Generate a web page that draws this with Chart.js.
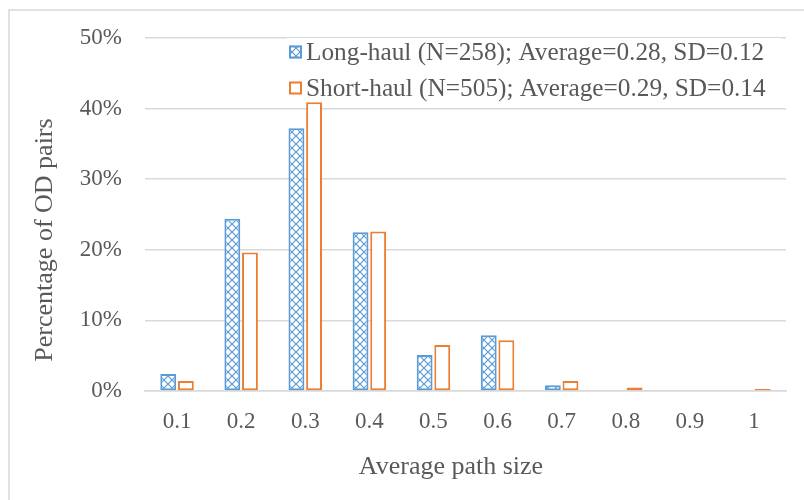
<!DOCTYPE html>
<html>
<head>
<meta charset="utf-8">
<script src="https://cdn.jsdelivr.net/npm/chart.js@4/dist/chart.umd.min.js"></script>
<style>
  html, body { margin: 0; padding: 0; background: #ffffff; }
  #wrap { position: relative; width: 804px; height: 500px; }
</style>
</head>
<body>
<div id="wrap"><canvas id="c" width="804" height="500"></canvas></div>
<script>
// ---- Data ----
const categories = ['0.1', '0.2', '0.3', '0.4', '0.5', '0.6', '0.7', '0.8', '0.9', '1'];
const longHaulLabel = 'Long-haul (N=258); Average=0.28, SD=0.12';
const shortHaulLabel = 'Short-haul (N=505); Average=0.29, SD=0.14';
const longHaulValues = [2.4, 24.4, 37.2, 22.5, 5.1, 7.9, 0.8, 0, 0, 0];
const shortHaulValues = [1.4, 19.6, 40.9, 22.6, 6.5, 7.2, 1.4, 0.5, 0, 0.3];
const yTickValues = [0, 10, 20, 30, 40, 50];
const xTitle = 'Average path size';
const yTitle = 'Percentage of OD pairs';

// ---- Styles ----
const BLUE = '#5B9BD5';
const ORANGE = '#ED7D31';
const TEXT = '#595959';
const GRID = '#D9D9D9';
const FONT = '"Liberation Serif", "Times New Roman", serif';

function makeHatch() {
  const p = document.createElement('canvas');
  p.width = 8; p.height = 8;
  const g = p.getContext('2d');
  g.fillStyle = '#ffffff';
  g.fillRect(0, 0, 8, 8);
  g.strokeStyle = BLUE;
  g.lineWidth = 1.2;
  g.beginPath();
  g.moveTo(0, 0); g.lineTo(8, 8);
  g.moveTo(8, 0); g.lineTo(0, 8);
  g.stroke();
  const ctx = document.getElementById('c').getContext('2d');
  return ctx.createPattern(p, 'repeat');
}
const hatch = makeHatch();

const decorPlugin = {
  id: 'decor',
  beforeDraw(chart) {
    const ctx = chart.ctx;
    ctx.save();
    ctx.strokeStyle = GRID;
    ctx.lineWidth = 1.5;
    ctx.beginPath();
    ctx.moveTo(9, 520);
    ctx.lineTo(9, 10);
    ctx.lineTo(820, 10);
    ctx.stroke();
    ctx.restore();
  },
  afterDraw(chart) {
    const ctx = chart.ctx;
    ctx.save();
    ctx.fillStyle = TEXT;
    // axis titles
    ctx.font = '26px ' + FONT;
    ctx.textAlign = 'center';
    ctx.textBaseline = 'middle';
    ctx.fillText(xTitle, 451, 467);
    ctx.save();
    ctx.translate(45, 240);
    ctx.rotate(-Math.PI / 2);
    ctx.fillText(yTitle, 0, 0);
    ctx.restore();
    // legend
    const items = [
      { label: chart.data.datasets[0].label, fill: hatch, stroke: BLUE, y: 52 },
      { label: chart.data.datasets[1].label, fill: '#ffffff', stroke: ORANGE, y: 88 }
    ];
    ctx.font = '25.3px ' + FONT;
    ctx.textAlign = 'left';
    items.forEach(it => {
      ctx.fillStyle = '#ffffff';
      ctx.fillRect(286, it.y - 14, 495, 28);
      ctx.fillStyle = it.fill;
      ctx.fillRect(289, it.y - 6.5, 13, 13);
      ctx.strokeStyle = it.stroke;
      ctx.lineWidth = 2;
      ctx.strokeRect(290, it.y - 5.5, 11, 11);
      ctx.fillStyle = TEXT;
      ctx.fillText(it.label, 306, it.y + 1);
    });
    ctx.restore();
  }
};

new Chart(document.getElementById('c'), {
  type: 'bar',
  data: {
    labels: categories,
    datasets: [
      {
        label: longHaulLabel,
        data: longHaulValues,
        backgroundColor: hatch,
        borderColor: BLUE,
        borderWidth: 2,
        borderSkipped: false,
        categoryPercentage: 0.55,
        barPercentage: 0.9
      },
      {
        label: shortHaulLabel,
        data: shortHaulValues,
        backgroundColor: '#ffffff',
        borderColor: ORANGE,
        borderWidth: 2,
        borderSkipped: false,
        categoryPercentage: 0.55,
        barPercentage: 0.9
      }
    ]
  },
  options: {
    responsive: false,
    animation: false,
    devicePixelRatio: 1,
    layout: { padding: { left: 0, top: 38, right: 18, bottom: 0 } },
    plugins: {
      legend: { display: false },
      tooltip: { enabled: false },
      title: { display: false }
    },
    scales: {
      x: {
        grid: { display: false, drawTicks: false },
        border: { display: true, color: GRID, width: 1.5 },
        ticks: { color: TEXT, font: { family: FONT, size: 23 }, padding: 17, maxRotation: 0 },
        afterFit(axis) { axis.height = 109; }
      },
      y: {
        min: 0,
        max: 50,
        afterBuildTicks(axis) { axis.ticks = yTickValues.map(v => ({ value: v })); },
        grid: { color: GRID, lineWidth: 1.5, drawTicks: false },
        border: { display: false },
        ticks: {
          color: TEXT,
          font: { family: FONT, size: 23 },
          padding: 23,
          callback: v => v + '%'
        },
        afterFit(axis) { axis.width = 145; }
      }
    }
  },
  plugins: [decorPlugin]
});
</script>
</body>
</html>
